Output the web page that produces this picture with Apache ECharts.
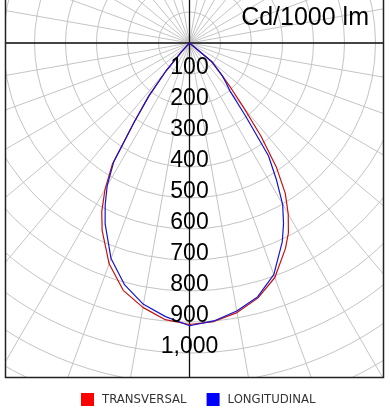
<!DOCTYPE html>
<html>
<head>
<meta charset="utf-8">
<script src="https://cdn.jsdelivr.net/npm/echarts@6/dist/echarts.min.js"></script>
<style>
html,body{margin:0;padding:0;background:#fff;}
#chart{width:390px;height:415px;}
</style>
</head>
<body>
<div id="chart"></div>
<script>
// Gamma angles (degrees from nadir; negative = left side)
const angles = [-55,-50,-45,-42.5,-40,-37.5,-35,-32.5,-30,-27.5,-25,-20,-15,-10,-5,0,5,10,15,20,25,27.5,30,32.5,35,37.5,40,42.5,45,50,55];
// Intensities in cd/1000 lm
const transversal = [0,0,0,30,118,215,310,462,545,613,667,758,826,866,896,908,902,883,852,805,732,691,637,575,488,379,272,200,150,90,0];
const longitudinal = [0,0,0,40,120,215,310,455,531,589,644,740,808,856,886,912,900,878,848,795,708,657,601,521,444,297,205,175,149,97,0];
const seriesNames = ['TRANSVERSAL','LONGITUDINAL'];
const radialTicks = [100,200,300,400,500,600,700,800,900,1000];
const unitLabel = 'Cd/1000 lm';

const RMAX = 1300;
const PX_PER_CD = 0.31;
const CENTER = [189.5, 43];

function toPolar(vals){
  return vals.map((v,i)=>[v, (angles[i] + 360) % 360]);
}
function fmt(v){
  return String(v).replace(/\B(?=(\d{3})+(?!\d))/g, ',');
}

const chart = echarts.init(document.getElementById('chart'), null, {renderer:'canvas'});
const grey = '#c4c4c4';
const option = {
  backgroundColor:'#fff',
  animation:false,
  title:{
    text: unitLabel, right: 16, top: 1,
    textStyle:{fontFamily:'Liberation Sans, Arial', fontSize:25, fontWeight:'normal', color:'#000'},
    z: 20
  },
  legend:{
    data: seriesNames,
    left: 76, top: 388,
    icon:'rect', itemWidth:13, itemHeight:13, itemGap:20,
    textStyle:{fontFamily:'Liberation Sans Narrow, DejaVu Sans Condensed, sans-serif', fontSize:13, color:'#333', padding:[0,0,0,3]},
    z: 30
  },
  polar:[
    {center: CENTER, radius: RMAX*PX_PER_CD},
    {center: CENTER, radius: RMAX*PX_PER_CD}
  ],
  angleAxis:[
    {polarIndex:0, type:'value', min:0, max:360, interval:10, startAngle:270, clockwise:false,
     axisLine:{show:false}, axisTick:{show:false}, axisLabel:{show:false},
     splitLine:{show:true, lineStyle:{color:grey, width:1}}, z:0},
    {polarIndex:1, type:'value', min:0, max:360, interval:90, startAngle:270, clockwise:false,
     axisLine:{show:false}, axisTick:{show:false}, axisLabel:{show:false},
     splitLine:{show:true, lineStyle:{color:'#111', width:1.3}}, z:1}
  ],
  radiusAxis:[
    {polarIndex:0, type:'value', min:0, max:RMAX, interval:100,
     axisLine:{show:false}, axisTick:{show:false}, axisLabel:{show:false},
     splitLine:{show:true, lineStyle:{color:grey, width:1}}, z:0},
    {polarIndex:1, type:'value', min:0, max:RMAX, interval:100,
     axisLine:{show:false}, axisTick:{show:false}, splitLine:{show:false},
     axisLabel:{show:true, margin:0, align:'center', verticalAlign:'bottom',
       fontFamily:'Liberation Sans, Arial', fontSize:23, color:'#000', lineHeight:19,
       padding:[0,0,-3,0],
       formatter:(v)=> radialTicks.includes(v) ? fmt(v) : ''},
     z:10}
  ],
  series:[
    {name:seriesNames[0], type:'line', coordinateSystem:'polar', polarIndex:0,
     data: toPolar(transversal), showSymbol:false, symbol:'none',
     itemStyle:{color:'#ff0000'}, lineStyle:{color:'#c81010', width:1.2}, z:3},
    {name:seriesNames[1], type:'line', coordinateSystem:'polar', polarIndex:0,
     data: toPolar(longitudinal), showSymbol:false, symbol:'none',
     itemStyle:{color:'#0000ff'}, lineStyle:{color:'#1515d0', width:1.2}, z:4}
  ],
  graphic:[
    {type:'rect', shape:{x:0,y:0,width:5,height:415}, style:{fill:'#fff'}, z:15},
    {type:'rect', shape:{x:384,y:0,width:6,height:415}, style:{fill:'#fff'}, z:15},
    {type:'rect', shape:{x:0,y:378,width:390,height:37}, style:{fill:'#fff'}, z:15},
    {type:'rect', shape:{x:5.5,y:-5,width:378,height:382.5}, style:{fill:'none', stroke:'#222', lineWidth:1.5}, z:16}
  ]
};
chart.setOption(option);
</script>
</body>
</html>
